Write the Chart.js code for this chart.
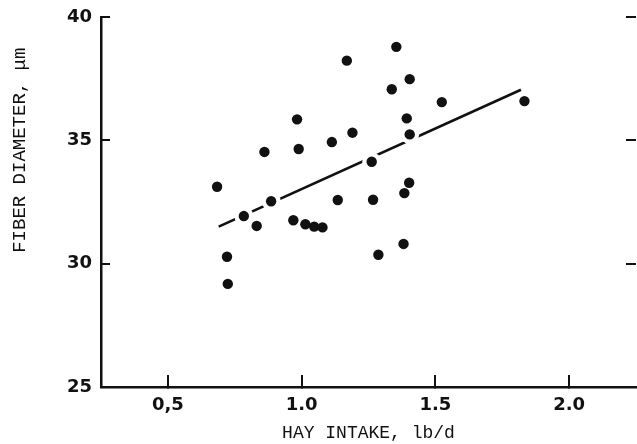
<!DOCTYPE html>
<html>
<head>
<meta charset="utf-8">
<script src="https://cdn.jsdelivr.net/npm/chart.js@4/dist/chart.umd.min.js"></script>
<style>
  body { margin: 0; background: #fff; }
  #wrap { width: 637px; height: 444px; }
</style>
</head>
<body>
<div id="wrap"><canvas id="fiberChart"></canvas></div>
<script>
// hay intake (lb/d) vs fiber diameter (um)
const hayIntake = [0.684, 0.721, 0.724, 0.784, 0.832, 0.861, 0.886, 0.969, 0.983, 0.989,
  1.014, 1.047, 1.078, 1.113, 1.135, 1.169, 1.190, 1.262, 1.267, 1.287,
  1.337, 1.354, 1.393, 1.404, 1.404, 1.402, 1.384, 1.381, 1.524, 1.833];
const fiberDiameter = [33.12, 30.28, 29.18, 31.93, 31.53, 34.53, 32.53, 31.76, 35.85, 34.65,
  31.60, 31.50, 31.47, 34.93, 32.58, 38.23, 35.31, 34.13, 32.59, 30.36,
  37.07, 38.79, 35.89, 35.24, 37.48, 33.28, 32.86, 30.80, 36.55, 36.59];

// regression line end points
const fitX = [0.69, 1.82];
const fitY = [31.5, 37.05];

const xTicks = [0.5, 1.0, 1.5, 2.0];
const xTickLabels = ['0,5', '1.0', '1.5', '2.0'];
const yTicks = [25, 30, 35, 40];

const xTitle = 'HAY INTAKE, lb/d';
const yTitle = 'FIBER DIAMETER, \u03bcm';

const ink = '#111';

const points = hayIntake.map((x, i) => ({ x: x, y: fiberDiameter[i] }));
const fitLine = fitX.map((x, i) => ({ x: x, y: fitY[i] }));

// rotated y title sits above the middle of the axis, so draw it by hand
const yTitlePlugin = {
  id: 'yTitle',
  afterDraw(chart) {
    const { ctx, scales } = chart;
    ctx.save();
    ctx.translate(20, scales.y.getPixelForValue(34.6));
    ctx.rotate(-Math.PI / 2);
    ctx.font = '19px "Liberation Mono"';
    ctx.fillStyle = ink;
    ctx.textAlign = 'center';
    ctx.textBaseline = 'middle';
    ctx.fillText(yTitle, 0, 0);
    ctx.restore();
  }
};

// fixed box sizes, and no extra room for the edge labels
const fixBox = (w, h) => (scale) => {
  if (w !== null) scale.width = w;
  if (h !== null) scale.height = h;
  scale.paddingLeft = 0;
  scale.paddingRight = 0;
  scale.paddingTop = 0;
  scale.paddingBottom = 0;
};

const tickFont = { family: 'DejaVu Sans', weight: 'bold', size: 18 };

new Chart(document.getElementById('fiberChart'), {
  type: 'scatter',
  data: {
    datasets: [
      {
        label: 'fit',
        type: 'line',
        data: fitLine,
        borderColor: ink,
        borderWidth: 2.6,
        pointRadius: 0,
        order: 3
      },
      {
        // white halo breaks the line where it runs through a dot
        label: 'halo',
        data: points,
        pointRadius: 9.5,
        pointBackgroundColor: '#fff',
        pointBorderWidth: 0,
        order: 2
      },
      {
        label: 'animals',
        data: points,
        pointRadius: 5.2,
        pointBackgroundColor: ink,
        pointBorderWidth: 0,
        order: 1
      }
    ]
  },
  options: {
    responsive: true,
    maintainAspectRatio: false,
    animation: false,
    layout: { autoPadding: false, padding: { top: 17, left: 0, right: 0, bottom: 0 } },
    plugins: {
      legend: { display: false },
      tooltip: { enabled: false }
    },
    scales: {
      x: {
        type: 'linear',
        min: 0.25,
        max: 2.25,
        afterBuildTicks: (scale) => { scale.ticks = xTicks.map(v => ({ value: v })); },
        afterFit: fixBox(null, 57),
        border: { color: ink, width: 2.5 },
        grid: { drawOnChartArea: false, tickLength: -12, color: ink, lineWidth: 2 },
        ticks: {
          color: ink,
          font: tickFont,
          padding: 20,
          callback: (v) => xTickLabels[xTicks.indexOf(v)]
        },
        title: {
          display: true,
          text: xTitle,
          color: ink,
          font: { family: 'Liberation Mono', size: 18 },
          padding: { top: 0, bottom: 0 }
        }
      },
      y: {
        min: 25,
        max: 40,
        afterBuildTicks: (scale) => { scale.ticks = yTicks.map(v => ({ value: v })); },
        afterFit: fixBox(101, null),
        border: { color: ink, width: 2.5 },
        grid: { drawOnChartArea: false, tickLength: -9, color: ink, lineWidth: 2 },
        ticks: { color: ink, font: tickFont, padding: 18 }
      },
      y2: {
        position: 'right',
        min: 25,
        max: 40,
        afterBuildTicks: (scale) => { scale.ticks = yTicks.map(v => ({ value: v })); },
        afterFit: fixBox(1, null),
        border: { display: false },
        grid: { drawOnChartArea: false, tickLength: -10, color: ink, lineWidth: 2 },
        ticks: { display: false }
      }
    }
  },
  plugins: [yTitlePlugin]
});
</script>
</body>
</html>
